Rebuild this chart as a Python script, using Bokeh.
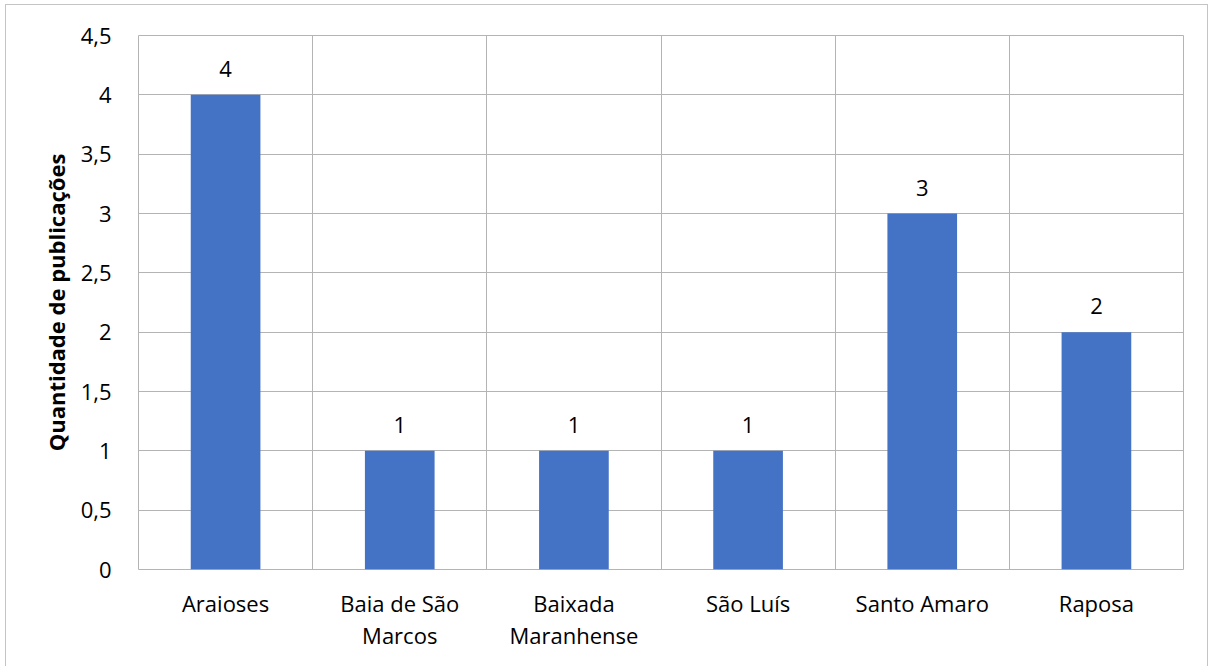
from bokeh.plotting import figure
from bokeh.models import FixedTicker, CustomJSTickFormatter, ColumnDataSource, Range1d, LabelSet
from bokeh.core.properties import value
from bokeh.embed import file_html
from bokeh.resources import INLINE

categories = ["Araioses", "Baia de São\nMarcos", "Baixada\nMaranhense", "São Luís", "Santo Amaro", "Raposa"]
values = [4, 1, 1, 1, 3, 2]
y_ticks = [0, 0.5, 1, 1.5, 2, 2.5, 3, 3.5, 4, 4.5]
y_title = "Quantidade de publicações"

FONT = "Open Sans"
GRID = "#b4b4b4"
BAR = "#4472C4"
FS = "22px"

idx = list(range(len(categories)))
source = ColumnDataSource(dict(x=idx, top=values, label=[str(v) for v in values]))

p = figure(width=1201, height=661, output_backend="svg", toolbar_location=None,
           x_range=Range1d(-0.5, len(categories) - 0.5), y_range=Range1d(0, max(y_ticks)),
           min_border_left=132, min_border_right=24, min_border_top=30, min_border_bottom=97)
p.margin = (5, 0, 0, 6)
p.styles = {"outline": "1px solid #c4c4c4"}

p.vbar(x="x", top="top", width=0.4, source=source, fill_color=BAR, line_color=None)

labels = LabelSet(x="x", y="top", text="label", source=source, y_offset=18,
                  text_align="center", text_baseline="alphabetic",
                  text_font=value(FONT), text_font_size=value(FS), text_color="#000000")
p.add_layout(labels)

p.outline_line_color = GRID
p.outline_line_width = 1

p.xaxis.ticker = FixedTicker(ticks=idx)
p.xaxis.major_label_overrides = {i: c for i, c in enumerate(categories)}
p.xaxis.axis_line_color = None
p.xaxis.major_tick_line_color = None
p.xaxis.minor_tick_line_color = None
p.xaxis.major_label_text_font = FONT
p.xaxis.major_label_text_font_size = FS
p.xaxis.major_label_text_color = "#000000"
p.xaxis.major_label_text_line_height = 1.07
p.xaxis.major_label_standoff = 12

p.yaxis.ticker = FixedTicker(ticks=y_ticks)
p.yaxis.formatter = CustomJSTickFormatter(code="return tick.toString().replace('.', ',')")
p.yaxis.axis_line_color = None
p.yaxis.major_tick_line_color = None
p.yaxis.minor_tick_line_color = None
p.yaxis.major_label_text_font = FONT
p.yaxis.major_label_text_font_size = FS
p.yaxis.major_label_text_color = "#000000"
p.yaxis.major_label_standoff = 21
p.yaxis.axis_label = y_title
p.yaxis.axis_label_text_font = FONT
p.yaxis.axis_label_text_font_style = "bold"
p.yaxis.axis_label_text_font_size = "22px"
p.yaxis.axis_label_text_color = "#000000"
p.yaxis.axis_label_standoff = 7

p.xgrid.ticker = FixedTicker(ticks=[i - 0.5 for i in range(len(categories) + 1)])
p.ygrid.ticker = FixedTicker(ticks=y_ticks)
p.xgrid.grid_line_color = GRID
p.ygrid.grid_line_color = GRID

open("out.html", "w").write(file_html(p, INLINE))
